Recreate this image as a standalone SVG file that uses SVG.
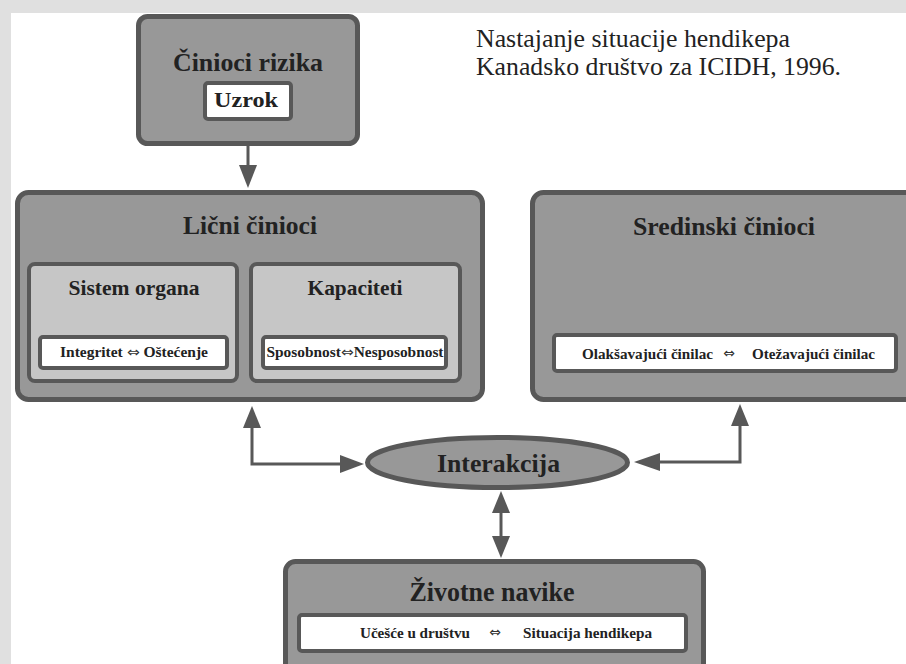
<svg xmlns="http://www.w3.org/2000/svg" width="906" height="664" viewBox="0 0 906 664">
<style>
.box{fill:#989898;stroke:#585858;stroke-width:5}
.sub{fill:#c6c6c6;stroke:#585858;stroke-width:4}
.wht{fill:#ffffff;stroke:#585858;stroke-width:4}
text{font-family:'Liberation Serif','DejaVu Serif',serif}
.t{font-weight:bold;fill:#222;text-anchor:middle}
.s{font-weight:bold;fill:#222}
.hd{fill:#222;font-size:25px}
text.ar,tspan.ar{font-family:'DejaVu Sans',sans-serif;fill:#333;font-weight:normal}
.ln{fill:none;stroke:#585858;stroke-width:3}
.hh{fill:#585858}
</style>
<rect x="0" y="0" width="906" height="664" fill="#e0e0e0"/>
<rect x="11" y="13" width="895" height="651" fill="#ffffff"/>

<g id="header">
<text class="hd" x="476" y="47" textLength="314" lengthAdjust="spacingAndGlyphs">Nastajanje situacije hendikepa</text>
<text class="hd" x="476" y="75" textLength="365" lengthAdjust="spacingAndGlyphs">Kanadsko društvo za ICIDH, 1996.</text>
</g>

<g id="cinioci-rizika">
<rect class="box" x="138.5" y="16.5" width="219" height="127" rx="9"/>
<text class="t" x="248" y="71" font-size="26" textLength="150" lengthAdjust="spacingAndGlyphs">Činioci rizika</text>
<rect class="wht" x="205" y="83" width="86" height="36" rx="3"/>
<text class="t" x="246" y="107" font-size="21" textLength="64" lengthAdjust="spacingAndGlyphs">Uzrok</text>
</g>

<g id="licni-cinioci">
<rect class="box" x="17.5" y="192.5" width="465" height="207" rx="11"/>
<text class="t" x="250" y="234" font-size="26" textLength="134" lengthAdjust="spacingAndGlyphs">Lični činioci</text>
</g>

<g id="sistem-organa">
<rect class="sub" x="29" y="264" width="208" height="117" rx="6"/>
<text class="t" x="134" y="295" font-size="22" textLength="131" lengthAdjust="spacingAndGlyphs">Sistem organa</text>
<rect class="wht" x="40" y="337" width="187" height="31" rx="3"/>
<text class="t" x="134" y="357" font-size="14.5" textLength="148" lengthAdjust="spacingAndGlyphs">Integritet <tspan class="ar">⇔</tspan> Oštećenje</text>
</g>

<g id="kapaciteti">
<rect class="sub" x="251" y="264" width="209" height="117" rx="6"/>
<text class="t" x="355" y="295" font-size="22" textLength="95" lengthAdjust="spacingAndGlyphs">Kapaciteti</text>
<rect class="wht" x="263" y="337" width="183" height="31" rx="3"/>
<text class="t" x="355" y="357" font-size="14.5" textLength="177" lengthAdjust="spacingAndGlyphs">Sposobnost<tspan class="ar">⇔</tspan>Nesposobnost</text>
</g>

<g id="sredinski-cinioci">
<rect class="box" x="532.5" y="192.5" width="400" height="207" rx="11"/>
<text class="t" x="724" y="235" font-size="26" textLength="182" lengthAdjust="spacingAndGlyphs">Sredinski činioci</text>
<rect class="wht" x="554" y="335" width="342" height="36" rx="3"/>
<text class="s" x="582" y="359" font-size="14.5" textLength="131" lengthAdjust="spacingAndGlyphs">Olakšavajući činilac</text>
<text class="ar" x="729" y="358" font-size="14" text-anchor="middle">⇔</text>
<text class="s" x="752" y="359" font-size="14.5" textLength="123" lengthAdjust="spacingAndGlyphs">Otežavajući činilac</text>
</g>

<g id="interakcija">
<ellipse class="box" cx="497.5" cy="462.5" rx="130" ry="25"/>
<text class="t" x="498.5" y="472" font-size="25" textLength="123" lengthAdjust="spacingAndGlyphs">Interakcija</text>
</g>

<g id="zivotne-navike">
<rect class="box" x="285.5" y="561.5" width="418" height="130" rx="10"/>
<text class="t" x="492" y="601" font-size="27" textLength="165" lengthAdjust="spacingAndGlyphs">Životne navike</text>
<rect class="wht" x="299" y="615" width="387" height="36" rx="3"/>
<text class="s" x="360" y="638" font-size="15" textLength="110" lengthAdjust="spacingAndGlyphs">Učešće u društvu</text>
<text class="ar" x="495" y="637" font-size="14" text-anchor="middle">⇔</text>
<text class="s" x="523" y="638" font-size="15" textLength="129" lengthAdjust="spacingAndGlyphs">Situacija hendikepa</text>
</g>

<g id="connectors">
<path class="ln" d="M248,146 V168"/>
<polygon class="hh" points="239,165 257,165 248,188"/>

<path class="ln" d="M252,426 V464 H342"/>
<polygon class="hh" points="243,428 261,428 252,406"/>
<polygon class="hh" points="340,455 340,473 364,464"/>

<path class="ln" d="M740,424 V462 H658"/>
<polygon class="hh" points="731,426 749,426 740,404"/>
<polygon class="hh" points="660,453 660,471 634,462"/>

<path class="ln" d="M501,510 V540"/>
<polygon class="hh" points="492,513 510,513 501,491"/>
<polygon class="hh" points="492,536 510,536 501,558"/>
</g>
</svg>
